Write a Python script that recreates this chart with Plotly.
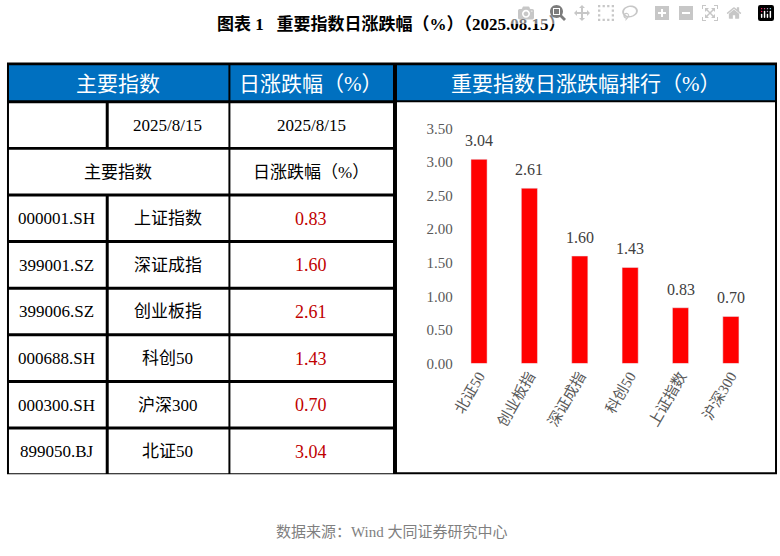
import plotly.graph_objects as go

codes = ["000001.SH", "399001.SZ", "399006.SZ", "000688.SH", "000300.SH", "899050.BJ"]
names = ["上证指数", "深证成指", "创业板指", "科创50", "沪深300", "北证50"]
values = [0.83, 1.60, 2.61, 1.43, 0.70, 3.04]
rank_names = ["北证50", "创业板指", "深证成指", "科创50", "上证指数", "沪深300"]
rank_values = [3.04, 2.61, 1.60, 1.43, 0.83, 0.70]
date_label = "2025/8/15"
yticks = [0, 0.5, 1, 1.5, 2, 2.5, 3, 3.5]

W, H = 780, 556
FONT = "Liberation Serif, Noto Sans CJK SC"
BLUE = "#0070c0"
def px(x): return x / W
def py(y): return 1 - y / H

shapes, ann = [], []
def rect(x0, y0, x1, y1, fill):
    shapes.append(dict(type="rect", xref="paper", yref="paper", x0=px(x0), x1=px(x1),
                       y0=py(y1), y1=py(y0), fillcolor=fill, line=dict(width=0), layer="below"))
def text(x, y, t, size=17, color="black", **kw):
    ann.append(dict(x=px(x), y=py(y), xref="paper", yref="paper", text=t, showarrow=False,
                    font=dict(size=size, color=color, family=FONT), xanchor="center", yanchor="middle", **kw))

rect(5, 56, 777, 480, "black")
rect(7, 59, 227, 95, BLUE); rect(229, 59, 392, 95, BLUE); rect(396, 59, 775, 95, BLUE)
text(116, 78, "主要指数", 21, "white"); text(310, 78, "日涨跌幅（%）", 21, "white")
text(585, 78, "重要指数日涨跌幅排行（%）", 21, "white")
rect(396, 97, 775, 478, "white")
rect(7, 98, 104, 143, "white"); rect(107, 98, 227, 143, "white"); rect(229, 98, 392, 143, "white")
text(166, 121, date_label); text(310, 121, date_label)
rect(7, 146, 227, 191, "white"); rect(229, 146, 392, 191, "white")
text(116, 169, "主要指数"); text(310, 169, "日涨跌幅（%）")
for i, (c, n, v) in enumerate(zip(codes, names, values)):
    y0 = 194 + i * 48
    rect(7, y0, 104, y0 + 45, "white"); rect(107, y0, 227, y0 + 45, "white"); rect(229, y0, 392, y0 + 45, "white")
    yc = y0 + 23
    text(55, yc, c); text(166, yc, n); text(310, yc, f"{v:.2f}", 18, "#c00000")

text(390, 17, "<b>图表 1   重要指数日涨跌幅（%）（2025.08.15）</b>", 17)
text(390, 540, "数据来源：Wind 大同证券研究中心", 15, "#7f7f7f")

for n, v in zip(rank_names, rank_values):
    ann.append(dict(x=n, y=v, xref="x", yref="y", text=f"{v:.2f}", showarrow=False,
                    yanchor="bottom", yshift=8, font=dict(size=16, color="#404040", family=FONT)))

fig = go.Figure(go.Bar(x=rank_names, y=rank_values, marker_color="#ff0000"))
fig.update_layout(width=W, height=H, margin=dict(l=0, r=0, t=0, b=0), plot_bgcolor="white",
                  paper_bgcolor="white", shapes=shapes, annotations=ann, bargap=0.68, showlegend=False,
                  xaxis=dict(domain=[px(453), px(756)], tickangle=-60, showline=False, ticks="",
                             tickfont=dict(size=15, color="#595959", family=FONT)),
                  yaxis=dict(domain=[py(366), py(124)], range=[0, 3.5], tickvals=yticks,
                             tickformat=".2f", showgrid=False, zeroline=False,
                             tickfont=dict(size=15, color="#595959", family=FONT)))
fig.write_html("out.html", post_script="document.body.style.margin='0';document.body.style.overflow='hidden';")
